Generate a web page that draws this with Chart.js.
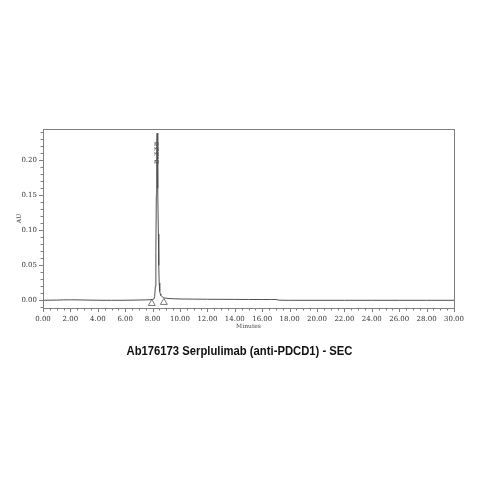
<!DOCTYPE html>
<html>
<head>
<meta charset="utf-8">
<script src="https://cdn.jsdelivr.net/npm/chart.js@4"></script>
<style>
html,body{margin:0;padding:0;background:#fff;}
#wrap{width:479px;height:479px;}
</style>
</head>
<body>
<div id="wrap"><canvas id="c" width="479" height="479"></canvas></div>
<script>
const chartTitle = "Ab176173 Serplulimab (anti-PDCD1) - SEC";
const xTitle = "Minutes";
const yTitle = "AU";
const peakLabel = "8.338";
const peakLabelX = 8.338;
const peakLabelY = 0.211;
const xTicks = [0,2,4,6,8,10,12,14,16,18,20,22,24,26,28,30];
const yTicks = [0.00,0.05,0.10,0.15,0.20];
const minutes = [0,0.5,1,1.5,2,2.5,3,4,5,6,7,7.5,7.8,8.0,8.1,8.15,8.2,8.24,8.27,8.3,8.33,8.36,8.39,8.42,8.45,8.48,8.52,8.56,8.6,8.7,8.8,8.9,9.2,9.5,10,11,12,13,14,15,16,16.6,17.0,17.2,17.5,18,20,22,24,26,28,30];
const absorbance = [0.0000,0.0002,0.0003,0.0006,0.0007,0.0006,0.0004,0.0001,0.0000,0.0001,0.0004,0.0006,0.0009,0.0012,0.0020,0.0050,0.0200,0.0700,0.1500,0.2200,0.2390,0.2200,0.1600,0.0950,0.0500,0.0250,0.0130,0.0090,0.0070,0.0050,0.0040,0.0032,0.0026,0.0022,0.0019,0.0017,0.0015,0.0014,0.0013,0.0012,0.0011,0.0012,0.0012,0.0003,0.0001,0.0000,0.0000,0.0000,0.0000,0.0000,0.0000,0.0000];
const markerX = [7.94,8.82];
const markerY = [-0.0045,-0.0030];

const lineData = minutes.map((m,i)=>({x:m,y:absorbance[i]}));
const markerData = markerX.map((m,i)=>({x:m,y:markerY[i]}));

const serif = "'DejaVu Serif', 'Liberation Serif', serif";

const decor = {
  id:'decor',
  afterDraw(chart){
    const ctx = chart.ctx, a = chart.chartArea;
    const xs = chart.scales.x, ys = chart.scales.y;
    ctx.save();
    ctx.strokeStyle = '#808080';
    ctx.lineWidth = 1;
    ctx.strokeRect(Math.round(a.left)+0.5, Math.round(a.top)+0.5, Math.round(a.right-a.left), Math.round(a.bottom-a.top));
    ctx.beginPath();
    for(let v=0; v<=30.001; v+=0.5){
      const px = Math.round(xs.getPixelForValue(v))+0.5;
      const major = Math.abs(v/2-Math.round(v/2))<1e-6;
      ctx.moveTo(px, a.bottom);
      ctx.lineTo(px, a.bottom + (major?4:2.5));
    }
    for(let k=-1; k<=24; k++){
      const v = k*0.01;
      const py = Math.round(ys.getPixelForValue(v))+0.5;
      if(py < a.top || py > a.bottom) continue;
      const major = (k%5===0);
      ctx.moveTo(a.left, py);
      ctx.lineTo(a.left - (major?4:2.5), py);
    }
    ctx.stroke();
    // peak label
    ctx.save();
    const lx = xs.getPixelForValue(peakLabelX), ly = ys.getPixelForValue(peakLabelY);
    ctx.translate(lx, ly);
    ctx.rotate(-Math.PI/2);
    ctx.fillStyle = '#555';
    ctx.font = "8px " + serif;
    ctx.textAlign = 'center';
    ctx.textBaseline = 'middle';
    ctx.fillText(peakLabel, 0, 0);
    ctx.restore();
    // main title (condensed bold sans)
    ctx.font = "bold 13.5px 'Liberation Sans', Arial, sans-serif";
    const w = ctx.measureText(chartTitle).width;
    const target = 226;
    ctx.translate(239.5, 351.5);
    ctx.scale(target / w, 1);
    ctx.fillStyle = '#111';
    ctx.textAlign = 'center';
    ctx.textBaseline = 'middle';
    ctx.fillText(chartTitle, 0, 0);
    ctx.restore();
  }
};

new Chart(document.getElementById('c'), {
  type:'line',
  data:{
    datasets:[
      {data:lineData, borderColor:'#505050', borderWidth:1, pointRadius:0, tension:0, fill:false},
      {data:markerData, showLine:false, pointStyle:'triangle', pointRadius:4, borderColor:'#555', backgroundColor:'rgba(255,255,255,0)', pointBorderWidth:0.8}
    ]
  },
  options:{
    responsive:false,
    animation:false,
    events:[],
    layout:{padding:{left:10,right:25,top:129,bottom:149}},
    plugins:{
      legend:{display:false},
      tooltip:{enabled:false},
      title:{display:false}
    },
    scales:{
      x:{type:'linear', min:0, max:30,
        afterBuildTicks(s){ s.ticks = xTicks.map(v=>({value:v})); },
        afterFit(s){ s.height = 22; },
        grid:{display:false, drawTicks:false},
        border:{display:false},
        ticks:{padding:7, color:'#333', maxRotation:0, autoSkip:false, font:{family:serif,size:7}, callback:v=>Number(v).toFixed(2)},
        title:{display:true, text:xTitle, color:'#444', font:{family:serif,size:6}, padding:{top:2,bottom:0}}
      },
      y:{type:'linear', min:-0.011, max:0.245,
        afterBuildTicks(s){ s.ticks = yTicks.map(v=>({value:v})); },
        afterFit(s){ s.width = 33; },
        grid:{display:false, drawTicks:false},
        border:{display:false},
        ticks:{padding:6, color:'#333', font:{family:serif,size:7}, callback:v=>Number(v).toFixed(2)},
        title:{display:true, text:yTitle, color:'#444', font:{family:serif,size:6}, padding:{top:6,bottom:0}}
      }
    }
  },
  plugins:[decor]
});
</script>
</body>
</html>
